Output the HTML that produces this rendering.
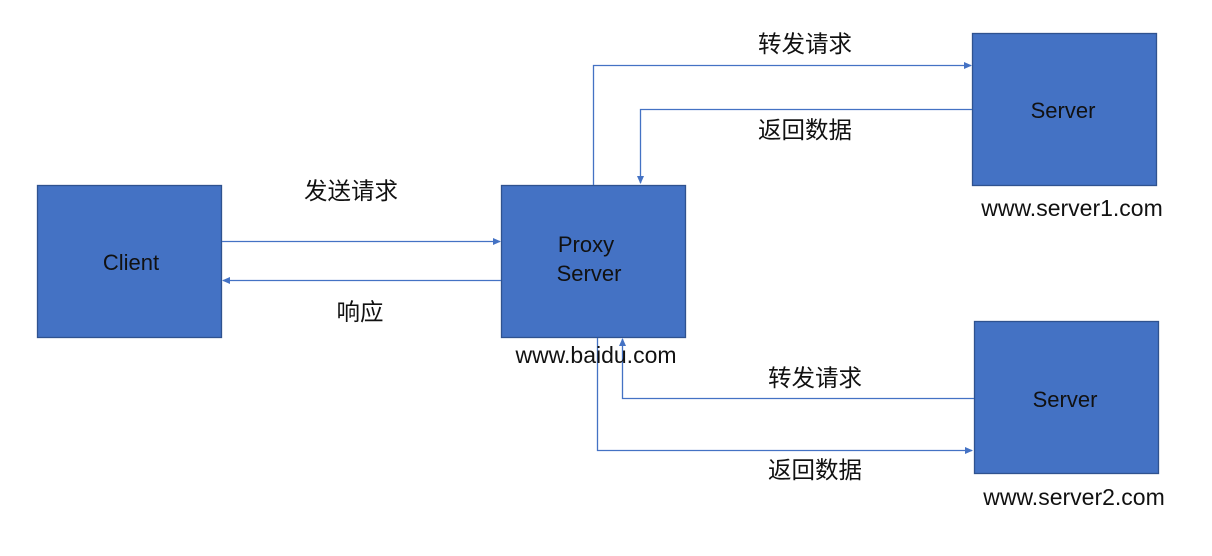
<!DOCTYPE html>
<html><head><meta charset="utf-8"><style>
html,body{margin:0;padding:0;background:#fff;}
svg{display:block;}
text{font-family:"Liberation Sans","Noto Sans CJK SC",sans-serif;font-size:23px;fill:#111;}
.c{font-size:23.5px}
.b{font-size:22px}
</style></head><body>
<svg width="1212" height="556" viewBox="0 0 1212 556" xmlns="http://www.w3.org/2000/svg">
<defs><marker id="a" markerWidth="8" markerHeight="8" refX="7" refY="4" orient="auto" markerUnits="userSpaceOnUse"><path d="M0,0.5 L8,4 L0,7.5z" fill="#4472C4"/></marker></defs>
<g fill="#4472C4" stroke="#2F528F" stroke-width="1.3">
<rect x="37.5" y="185.5" width="184" height="152"/>
<rect x="501.5" y="185.5" width="184" height="152"/>
<rect x="972.5" y="33.5" width="184" height="152"/>
<rect x="974.5" y="321.5" width="184" height="152"/>
</g>
<g fill="none" stroke="#4472C4" stroke-width="1.3">
<line x1="222" y1="241.5" x2="500" y2="241.5" marker-end="url(#a)"/>
<line x1="501" y1="280.5" x2="223" y2="280.5" marker-end="url(#a)"/>
<polyline points="593.5,185 593.5,65.5 971,65.5" marker-end="url(#a)"/>
<polyline points="972,109.5 640.5,109.5 640.5,183" marker-end="url(#a)"/>
<polyline points="974,398.5 622.5,398.5 622.5,339" marker-end="url(#a)"/>
<polyline points="597.5,338 597.5,450.5 972,450.5" marker-end="url(#a)"/>
</g>
<text class="b" x="131" y="270" text-anchor="middle">Client</text>
<text class="b" x="586" y="252" text-anchor="middle">Proxy</text>
<text class="b" x="589" y="281" text-anchor="middle">Server</text>
<text class="b" x="1063" y="118" text-anchor="middle">Server</text>
<text class="b" x="1065" y="407" text-anchor="middle">Server</text>
<text class="c" x="351" y="199" text-anchor="middle">发送请求</text>
<text class="c" x="360" y="320" text-anchor="middle">响应</text>
<text class="c" x="805" y="52" text-anchor="middle">转发请求</text>
<text class="c" x="805" y="138" text-anchor="middle">返回数据</text>
<text class="c" x="815" y="386" text-anchor="middle">转发请求</text>
<text class="c" x="815" y="478" text-anchor="middle">返回数据</text>
<text x="596" y="363" text-anchor="middle">www.baidu.com</text>
<text x="1072" y="216" text-anchor="middle">www.server1.com</text>
<text x="1074" y="505" text-anchor="middle">www.server2.com</text>
</svg>
</body></html>
